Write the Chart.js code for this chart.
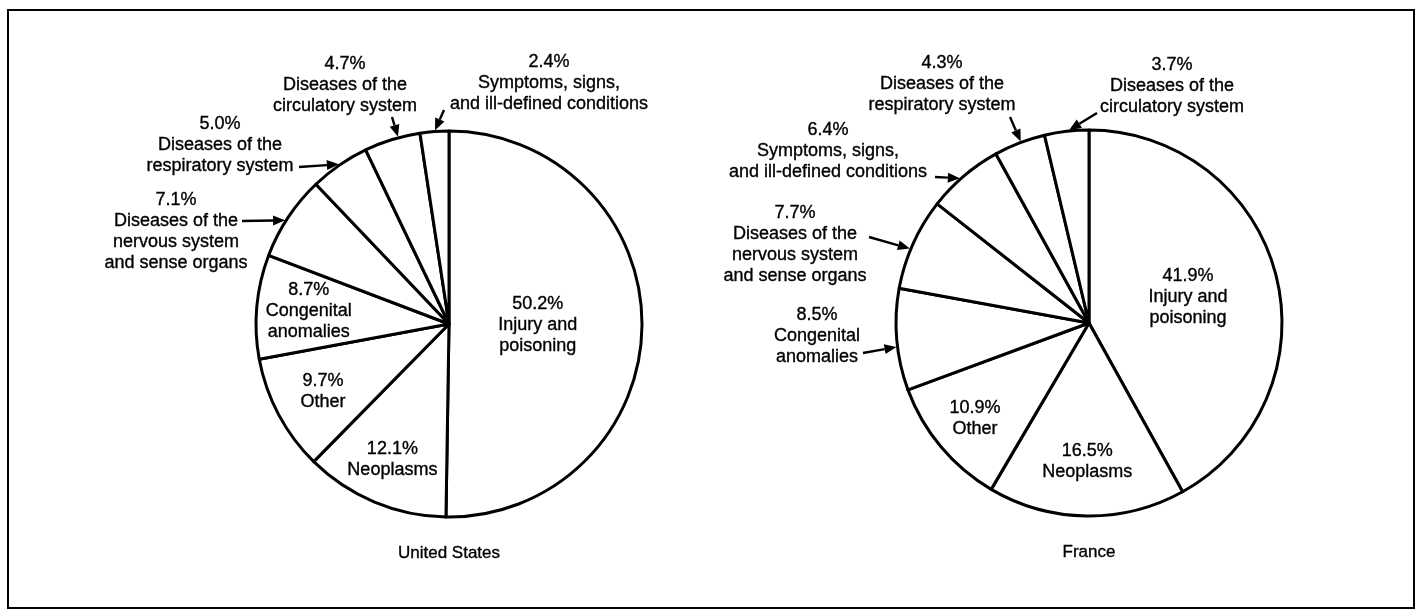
<!DOCTYPE html>
<html>
<head>
<meta charset="utf-8">
<script src="https://cdn.jsdelivr.net/npm/chart.js@4.4.1/dist/chart.umd.min.js"></script>
<style>
    html, body { margin: 0; padding: 0; background: #fff; }
    #wrap { position: relative; width: 1417px; height: 611px; overflow: hidden; background: #fff; }
    #frame { position: absolute; left: 7px; top: 9px; width: 1404px; height: 596px; border: 2px solid #000; }
    canvas { position: absolute; left: 0; top: 0; }
</style>
</head>
<body>
<div id="wrap">
    <div id="frame"></div>
    <canvas id="usChart" width="1417" height="611"></canvas>
    <canvas id="frChart" width="1417" height="611"></canvas>
</div>
<script>
// United States data (clockwise from 12 o'clock)
const usCategories = [
    'Injury and poisoning',
    'Neoplasms',
    'Other',
    'Congenital anomalies',
    'Diseases of the nervous system and sense organs',
    'Diseases of the respiratory system',
    'Diseases of the circulatory system',
    'Symptoms, signs, and ill-defined conditions'
];
const usValues = [50.2, 12.1, 9.7, 8.7, 7.1, 5.0, 4.7, 2.4];
const usLabelLines = [
    ['Injury and', 'poisoning'],
    ['Neoplasms'],
    ['Other'],
    ['Congenital', 'anomalies'],
    ['Diseases of the', 'nervous system', 'and sense organs'],
    ['Diseases of the', 'respiratory system'],
    ['Diseases of the', 'circulatory system'],
    ['Symptoms, signs,', 'and ill-defined conditions']
];

// France data
const frCategories = [
    'Injury and poisoning',
    'Neoplasms',
    'Other',
    'Congenital anomalies',
    'Diseases of the nervous system and sense organs',
    'Symptoms, signs, and ill-defined conditions',
    'Diseases of the respiratory system',
    'Diseases of the circulatory system'
];
const frValues = [41.9, 16.5, 10.9, 8.5, 7.7, 6.4, 4.3, 3.7];
const frLabelLines = [
    ['Injury and', 'poisoning'],
    ['Neoplasms'],
    ['Other'],
    ['Congenital', 'anomalies'],
    ['Diseases of the', 'nervous system', 'and sense organs'],
    ['Symptoms, signs,', 'and ill-defined conditions'],
    ['Diseases of the', 'respiratory system'],
    ['Diseases of the', 'circulatory system']
];

// label placement: inside = fraction of radius along slice middle,
// outside = text offset from pie centre, arrow tail offset, arrow tip (fraction of slice)
const usLabelPos = [
    { inside: 0.46 },
    { inside: 0.76 },
    { inside: 0.74 },
    { inside: 0.73 },
    { text: [-273, -124], tail: [-207, -103], tip: 0.45 },
    { text: [-229, -200], tail: [-150, -157], tip: 0.5 },
    { text: [-104, -260], tail: [-57, -207], tip: 0.61 },
    { text: [100, -262], tail: [-5, -214], tip: 0.52 }
];
const frLabelPos = [
    { inside: 0.53 },
    { inside: 0.72 },
    { inside: 0.77 },
    { text: [-272, -8], tail: [-226, 30], tip: 0.43 },
    { text: [-294, -110], tail: [-220, -86], tip: 0.44 },
    { text: [-261, -193], tail: [-154, -146], tip: 0.44 },
    { text: [-147, -260], tail: [-79, -206], tip: 0.53 },
    { text: [83, -258], tail: [8, -210], tip: 0.56 }
];

const FONT = '18px "Liberation Sans", Arial, Helvetica, sans-serif';
const LINE_H = 21;

function drawArrow(ctx, x1, y1, x2, y2) {
    const ang = Math.atan2(y2 - y1, x2 - x1);
    const headLen = 12, headW = 5;
    const bx = x2 - Math.cos(ang) * headLen;
    const by = y2 - Math.sin(ang) * headLen;
    ctx.beginPath();
    ctx.moveTo(x1, y1);
    ctx.lineTo(bx, by);
    ctx.lineWidth = 2.4;
    ctx.strokeStyle = '#000';
    ctx.stroke();
    ctx.beginPath();
    ctx.moveTo(x2, y2);
    ctx.lineTo(bx + Math.sin(ang) * headW, by - Math.cos(ang) * headW);
    ctx.lineTo(bx - Math.sin(ang) * headW, by + Math.cos(ang) * headW);
    ctx.closePath();
    ctx.fillStyle = '#000';
    ctx.fill();
}

// text a little heavier, like the printed original
function heavyText(ctx, t, x, y) {
    ctx.fillText(t, x, y);
    ctx.strokeText(t, x, y);
}

// draws the percentage labels, arrows and the country title
const pieLabelPlugin = {
    id: 'pieLabels',
    afterDraw(chart, args, opts) {
        const ctx = chart.ctx;
        const meta = chart.getDatasetMeta(0);
        const values = chart.data.datasets[0].data;
        ctx.save();
        ctx.font = FONT;
        ctx.textAlign = 'center';
        ctx.textBaseline = 'middle';
        meta.data.forEach((arc, i) => {
            const p = arc.getProps(['x', 'y', 'startAngle', 'endAngle', 'outerRadius'], true);
            const pos = opts.positions[i];
            const lines = [values[i].toFixed(1) + '%'].concat(opts.lines[i]);
            ctx.fillStyle = '#000';
            ctx.strokeStyle = '#000';
            ctx.lineWidth = 0.35;
            if (pos.inside !== undefined) {
                const mid = (p.startAngle + p.endAngle) / 2;
                const d = pos.inside * p.outerRadius;
                const cx = p.x + Math.cos(mid) * d;
                const cy = p.y + Math.sin(mid) * d - (lines.length - 1) * LINE_H / 2;
                lines.forEach((t, k) => heavyText(ctx, t, cx, cy + k * LINE_H));
            } else {
                const tx = p.x + pos.text[0];
                const ty = p.y + pos.text[1];
                lines.forEach((t, k) => heavyText(ctx, t, tx, ty + k * LINE_H));
                const a = p.startAngle + pos.tip * (p.endAngle - p.startAngle);
                const ex = p.x + Math.cos(a) * (p.outerRadius + 1);
                const ey = p.y + Math.sin(a) * (p.outerRadius + 1);
                drawArrow(ctx, p.x + pos.tail[0], p.y + pos.tail[1], ex, ey);
            }
        });
        const c = meta.data[0].getProps(['x', 'y', 'outerRadius'], true);
        ctx.font = '17px "Liberation Sans", Arial, Helvetica, sans-serif';
        ctx.fillStyle = '#000';
        ctx.strokeStyle = '#000';
        ctx.lineWidth = 0.35;
        heavyText(ctx, opts.title, c.x, c.y + c.outerRadius + 36);
        ctx.restore();
    }
};

function makePie(canvasId, categories, values, lines, positions, title, cx, cy, radius) {
    const ctx = document.getElementById(canvasId).getContext('2d');
    const half = 200;
    return new Chart(ctx, {
        type: 'pie',
        data: {
            labels: categories,
            datasets: [{
                data: values,
                backgroundColor: '#fff',
                borderColor: '#000',
                borderWidth: 3,
                borderJoinStyle: 'round'
            }]
        },
        options: {
            responsive: false,
            animation: false,
            radius: radius,
            layout: {
                padding: {
                    left: cx - half,
                    right: 1417 - cx - half,
                    top: cy - half,
                    bottom: 611 - cy - half
                }
            },
            plugins: {
                legend: { display: false },
                tooltip: { enabled: false },
                pieLabels: { lines: lines, positions: positions, title: title }
            }
        },
        plugins: [pieLabelPlugin]
    });
}

makePie('usChart', usCategories, usValues, usLabelLines, usLabelPos, 'United States', 449, 324, 193);
makePie('frChart', frCategories, frValues, frLabelLines, frLabelPos, 'France', 1089, 323, 193);
</script>
</body>
</html>
